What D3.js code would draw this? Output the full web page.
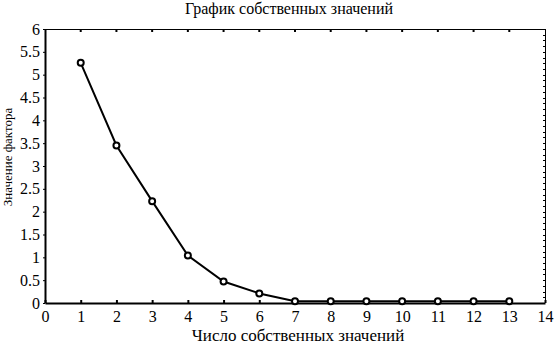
<!DOCTYPE html>
<html>
<head>
<meta charset="utf-8">
<script src="https://cdn.jsdelivr.net/npm/d3@7"></script>
<style>
  body { margin: 0; background: #fff; }
</style>
</head>
<body>
<script>
var title = "График собственных значений";
var xLabel = "Число собственных значений";
var yLabel = "Значение фактора";
var factors = [1, 2, 3, 4, 5, 6, 7, 8, 9, 10, 11, 12, 13];
var eigen = [5.26, 3.45, 2.23, 1.04, 0.47, 0.21, 0.04, 0.04, 0.04, 0.04, 0.04, 0.04, 0.04];
var xTicks = [0, 1, 2, 3, 4, 5, 6, 7, 8, 9, 10, 11, 12, 13, 14];
var yTicks = [0, 0.5, 1, 1.5, 2, 2.5, 3, 3.5, 4, 4.5, 5, 5.5, 6];

var FONT = "Liberation Serif";
var width = 555, height = 345;
var margin = {top: 29, right: 10, bottom: 42, left: 45};
var w = width - margin.left - margin.right;
var h = height - margin.top - margin.bottom;

var svg = d3.select("body").append("svg")
    .attr("width", width).attr("height", height);

var g = svg.append("g")
    .attr("transform", "translate(" + margin.left + "," + margin.top + ")");

var x = d3.scaleLinear().domain([0, 14]).range([0, w]);
var y = d3.scaleLinear().domain([0, 6]).range([h, 0]);

// frame: top and right thin
g.append("line").attr("x1", 0).attr("x2", w).attr("y1", 0.5).attr("y2", 0.5)
  .attr("stroke", "#000").attr("stroke-width", 1);
g.append("line").attr("x1", w + 0.5).attr("x2", w + 0.5).attr("y1", 0).attr("y2", h)
  .attr("stroke", "#000").attr("stroke-width", 1);

// top ticks (inside)
g.selectAll(".ttick").data(xTicks.slice(1, -1)).enter().append("rect")
  .attr("x", function(d) { return x(d) - 1; }).attr("y", 0)
  .attr("width", 2).attr("height", 3).attr("fill", "#000");

// right minor ticks
g.selectAll(".rtick").data(d3.range(0, 6.01, 0.125)).enter().append("line")
  .attr("x1", w - 2).attr("x2", w)
  .attr("y1", function(d) { return Math.round(y(d)) + 0.5; })
  .attr("y2", function(d) { return Math.round(y(d)) + 0.5; })
  .attr("stroke", "#000").attr("stroke-width", 1);

// x axis
var xAxis = g.append("g")
  .attr("transform", "translate(0," + h + ")")
  .call(d3.axisBottom(x).tickValues(xTicks).tickFormat(d3.format("d")).tickSizeInner(-3).tickSizeOuter(0).tickPadding(8))
  .attr("font-family", FONT).attr("font-size", 16);
xAxis.select(".domain").attr("stroke-width", 2);
xAxis.selectAll(".tick line").attr("stroke-width", 2);

// y axis
var yAxis = g.append("g")
  .call(d3.axisLeft(y).tickValues(yTicks).tickFormat(function(d) { return String(d); })
        .tickSizeInner(2).tickSizeOuter(0).tickPadding(3))
  .attr("font-family", FONT).attr("font-size", 16);
yAxis.select(".domain").attr("stroke-width", 2);

// line
g.append("path")
  .datum(factors)
  .attr("fill", "none").attr("stroke", "#000").attr("stroke-width", 2)
  .attr("d", d3.line()
    .x(function(d) { return x(d); })
    .y(function(d, i) { return y(eigen[i]); }));

g.selectAll(".pt").data(factors).enter().append("circle")
  .attr("cx", function(d) { return x(d); })
  .attr("cy", function(d, i) { return y(eigen[i]); })
  .attr("r", 3).attr("fill", "#fff").attr("stroke", "#000").attr("stroke-width", 2);

// titles
svg.append("text").attr("x", 289).attr("y", 14)
  .attr("text-anchor", "middle").attr("font-family", FONT).attr("font-size", 16).text(title);
svg.append("text").attr("x", 298).attr("y", 341)
  .attr("text-anchor", "middle").attr("font-family", FONT).attr("font-size", 17).text(xLabel);
svg.append("text")
  .attr("transform", "translate(12,157) rotate(-90)")
  .attr("text-anchor", "middle").attr("font-family", FONT).attr("font-size", 13).text(yLabel);
</script>
</body>
</html>
